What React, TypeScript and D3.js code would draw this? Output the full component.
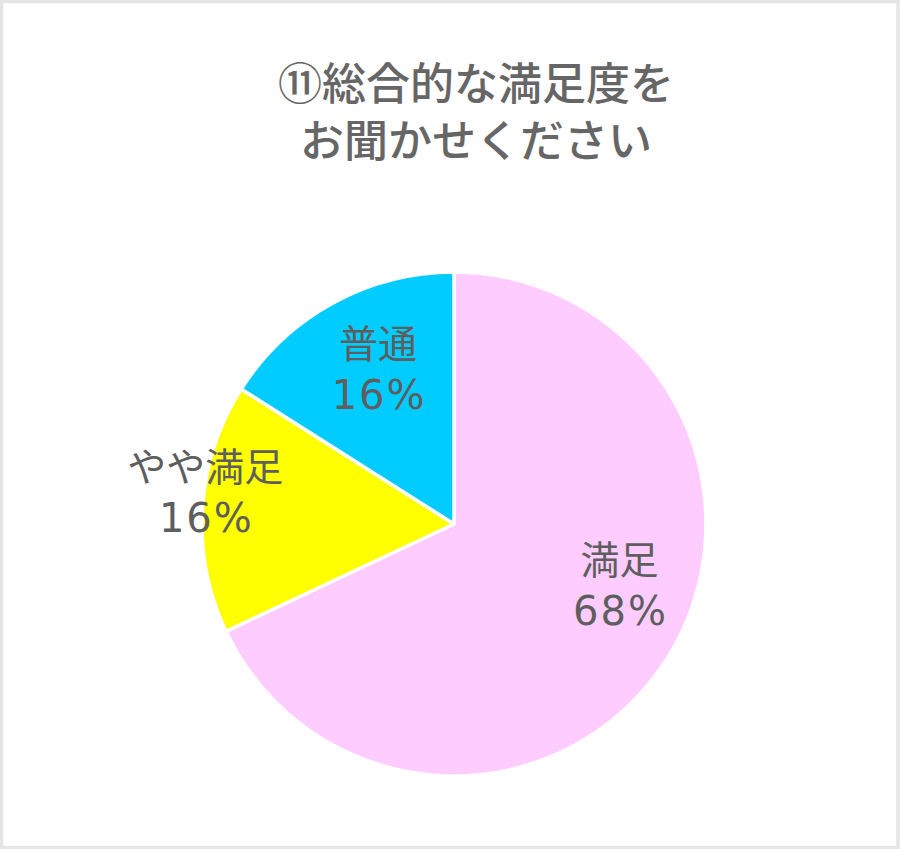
import * as d3 from "d3";
import React, {useEffect, useRef} from "react";

const categories = ["満足", "やや満足", "普通"];
const values = [68, 16, 16];
const percentLabels = ["68%", "16%", "16%"];
const colors = ["#FFCCFF", "#FFFF00", "#00CCFF"];
const titleLines = ["⑪総合的な満足度を", "お聞かせください"];

// label nudges from the arc centroid (Excel "best fit" placement)
const labelShift: [number, number][] = [[22, -31], [-79, -22], [6, -7]];

const App: React.FC = () => {
  const svgRef = useRef<SVGSVGElement | null>(null);

  useEffect(() => {
    if (!svgRef.current) {
      return
    }
    const svg = d3.select(svgRef.current);
    svg.selectAll("*").remove();

    const width = 900;
    const height = 849;
    const cx = 454;
    const cy = 524;
    const radius = 252;
    const font = "'Noto Sans CJK JP', 'Noto Sans', sans-serif";
    const digitFont = "'DejaVu Sans', 'Noto Sans CJK JP', sans-serif";

    svg.append("rect")
      .attr("x", 0).attr("y", 0)
      .attr("width", width).attr("height", height)
      .attr("fill", "#fff");
    svg.append("rect")
      .attr("x", 1.5).attr("y", 1.5)
      .attr("width", width - 3.5).attr("height", height - 3)
      .attr("fill", "none")
      .attr("stroke", "#e5e5e5")
      .attr("stroke-width", 3.5);

    // title: one text element, two lines
    svg.append("text")
      .attr("text-anchor", "middle")
      .attr("font-family", font)
      .attr("font-size", 44)
      .attr("font-weight", 500)
      .attr("fill", "#666666")
      .selectAll("tspan")
      .data(titleLines)
      .enter().append("tspan")
      .attr("x", 476)
      .attr("y", (d, i) => 100 + i * 57)
      .text(d => d);

    const pie = d3.pie<number>().sort(null).value(d => d);
    const arcs = pie(values);
    const arc = d3.arc<d3.PieArcDatum<number>>().innerRadius(0).outerRadius(radius);
    const labelArc = d3.arc<d3.PieArcDatum<number>>().innerRadius(170).outerRadius(170);

    const g = svg.append("g").attr("transform", `translate(${cx},${cy})`);

    g.selectAll("path")
      .data(arcs)
      .enter().append("path")
      .attr("d", arc)
      .attr("fill", (d, i) => colors[i])
      .attr("stroke", "#fff")
      .attr("stroke-width", 3.5)
      .attr("stroke-linejoin", "round");

    const labels = g.selectAll("g.label")
      .data(arcs)
      .enter().append("g")
      .attr("class", "label")
      .attr("transform", (d, i) => {
        const [x, y] = labelArc.centroid(d);
        return `translate(${x + labelShift[i][0]},${y + labelShift[i][1]})`;
      });

    labels.append("text")
      .attr("y", -27)
      .attr("text-anchor", "middle")
      .attr("dominant-baseline", "central")
      .attr("font-family", font)
      .attr("font-size", 39)
      .attr("fill", "#5e5e5e")
      .text((d, i) => categories[i]);

    labels.append("text")
      .attr("x", 1)
      .attr("y", 27)
      .attr("text-anchor", "middle")
      .attr("dominant-baseline", "central")
      .attr("font-family", digitFont)
      .attr("font-size", 40)
      .attr("letter-spacing", 2)
      .attr("fill", "#5e5e5e")
      .text((d, i) => percentLabels[i]);
  }, []);

  return (
    <svg
      ref={svgRef}
      width={900}
      height={849}
      style={{position: "absolute", left: 0, top: 0}}
    />
  );
}

export default App;
